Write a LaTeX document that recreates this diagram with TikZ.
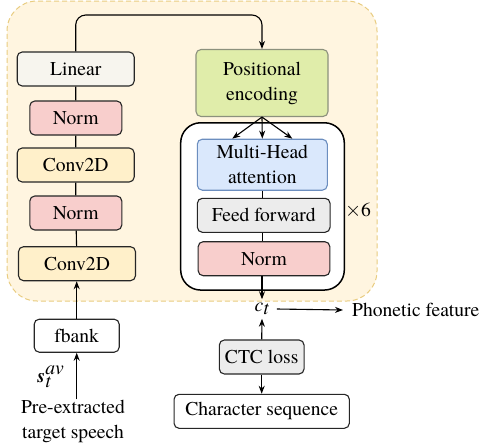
\documentclass[tikz,border=0pt]{standalone}
\usepackage{fontspec}
\setmainfont{TeX Gyre Termes}
\usetikzlibrary{arrows.meta}
\definecolor{bgfill}{RGB}{255,245,224}
\definecolor{bgdraw}{RGB}{232,204,128}
\definecolor{pinkfill}{RGB}{248,206,204}
\definecolor{yelfill}{RGB}{255,240,202}
\definecolor{linfill}{RGB}{247,245,238}
\definecolor{greenfill}{RGB}{224,237,170}
\definecolor{greendraw}{RGB}{140,145,125}
\definecolor{bluefill}{RGB}{218,232,252}
\definecolor{bluedraw}{RGB}{108,142,191}
\definecolor{grayfill}{RGB}{236,236,236}
\begin{document}
\begin{tikzpicture}[x=1pt,y=-1pt, font=\fontsize{19.6}{25}\selectfont,
  box/.style={draw=black!85, line width=1.1pt, rounded corners=5pt, minimum height=34pt, inner sep=0pt, align=center},
  arr/.style={-{Stealth[length=8pt,width=6pt]}, line width=1.1pt},
  ln/.style={line width=1.1pt}]
\useasboundingbox (0,0) rectangle (483,448);
% background
\node (bg) [draw=bgdraw, dashed, dash pattern=on 5pt off 3pt, line width=1pt, fill=bgfill, rounded corners=30pt, minimum width=370pt, minimum height=300pt, inner sep=0pt] at (192,151) {};
% left column
\node[box, fill=linfill, minimum width=117pt] (lin) at (75.7,69) {Linear};
\node[box, fill=pinkfill, minimum width=92pt] (n1) at (75.8,118) {Norm};
\node[box, fill=yelfill, minimum width=117pt] (c1) at (75.7,165) {Conv2D};
\node[box, fill=pinkfill, minimum width=92pt] (n2) at (75.8,213) {Norm};
\node[box, fill=yelfill, minimum width=117pt] (c2) at (77,263.7) {Conv2D};
\node[box, fill=white, minimum width=85pt, minimum height=33pt] (fb) at (76.7,335.7) {fbank};
\node (s) at (51,377) {\textbf{\textit{s}}$^{\textit{av}}_{\textit{t}}$};
\node[align=center, inner sep=0pt] (pre) at (73,421) {Pre-extracted\\target speech};
\draw[ln] (lin) -- (n1);
\draw[ln] (n1) -- (c1);
\draw[ln] (c1) -- (n2);
\draw[ln] (n2) -- (c2);
\draw[arr] (fb.north) -- (fb.north |- c2.south);
\draw[arr] (fb.south |- pre.north) -- (fb.south);
% right column
\node[box, draw=greendraw, fill=greenfill, minimum width=132pt, minimum height=67pt] (pe) at (262,83) {Positional\\encoding};
\node (enc) [draw, line width=1.5pt, fill=white, rounded corners=20pt, minimum width=163.6pt, minimum height=167.3pt, inner sep=0pt] at (262.5,206.4) {};
\node[box, draw=bluedraw, fill=bluefill, minimum width=130pt, minimum height=51pt] (mha) at (262.3,164.7) {Multi-Head\\attention};
\node[box, fill=grayfill, minimum width=132.7pt] (ff) at (263.7,215.3) {Feed forward};
\node[box, fill=pinkfill, minimum width=131.7pt] (nr) at (264,258.7) {Norm};
\node (x6) at (358,211) {$\times$6};
\coordinate (topc) at (262,15);
\draw[arr, rounded corners=10pt] (lin.north) |- (topc) -- (pe.north);
\draw[arr] (pe.south) -- ([xshift=-30pt]mha.north);
\draw[arr] (pe.south) -- (mha.north);
\draw[arr] (pe.south) -- ([xshift=30pt]mha.north);
\draw[ln] (mha.south) -- (mha.south |- ff.north);
\draw[ln] (mha.south |- ff.south) -- (mha.south |- nr.north);
\node (ct) at (262,309) {\textit{c}$_{\textit{t}}$};
\node[anchor=west, inner sep=0pt] (ph) at (352,310) {Phonetic feature};
\node[box, fill=grayfill, minimum width=84.7pt] (ctc) at (261.7,357) {CTC loss};
\node[box, fill=white, minimum width=175.3pt] (cs) at (261.7,411.3) {Character sequence};
\draw[arr] (ct.north |- nr.south) -- (ct.north);
\draw[arr] (ct.east) ++(4pt,0) -- ([xshift=-9pt]ph.west);
\draw[arr] (ctc.north) -- (ct.south);
\draw[arr] (ctc.south) -- (cs.north);
\end{tikzpicture}
\end{document}
